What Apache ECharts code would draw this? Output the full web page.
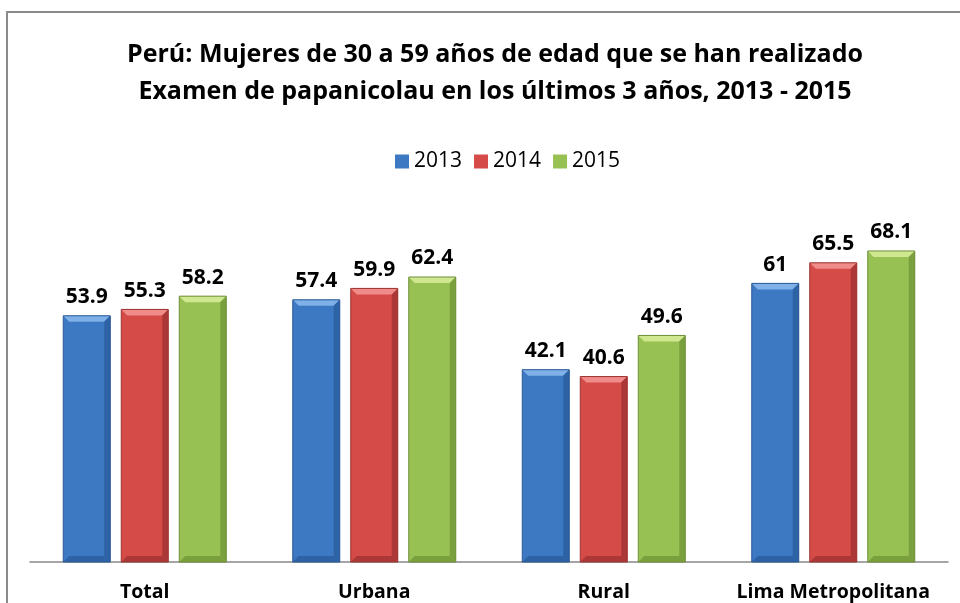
<!DOCTYPE html>
<html>
<head>
<meta charset="utf-8">
<script src="https://cdn.jsdelivr.net/npm/echarts@6/dist/echarts.min.js"></script>
<style>
  html, body { margin: 0; padding: 0; background: #fff; }
  #main { width: 960px; height: 603px; }
</style>
</head>
<body>
<div id="main"></div>
<script>
var categories = ['Total', 'Urbana', 'Rural', 'Lima Metropolitana'];
var years = ['2013', '2014', '2015'];
var values2013 = [53.9, 57.4, 42.1, 61];
var values2014 = [55.3, 59.9, 40.6, 65.5];
var values2015 = [58.2, 62.4, 49.6, 68.1];

var chart = echarts.init(document.getElementById('main'));

// colores: cara, borde, bisel claro, bisel oscuro
var palette = [
  { face: '#3d78c3', edge: '#2a5a96', light: '#7fb0e8', dark: '#2d62a4' },
  { face: '#d44b48', edge: '#9c3432', light: '#ef8c89', dark: '#ab3836' },
  { face: '#98c154', edge: '#6f8f3a', light: '#cfe890', dark: '#7aa03e' }
];

var barW = 47, step = 58;

function makeSeries(idx, data) {
  var c = palette[idx];
  return {
    name: years[idx],
    type: 'custom',
    data: data.map(function (v, i) { return [i, v]; }),
    itemStyle: { color: c.face },
    renderItem: function (params, api) {
      var p0 = api.coord([api.value(0), 0]);
      var p1 = api.coord([api.value(0), api.value(1)]);
      var cx = p0[0] + (idx - 1) * step;
      var x0 = cx - barW / 2, x1 = cx + barW / 2;
      var yb = p0[1], yt = p1[1];
      var b = 6;
      return {
        type: 'group',
        children: [
          { type: 'rect', shape: { x: x0, y: yt, width: barW, height: yb - yt },
            style: { fill: c.face } },
          { type: 'polygon', shape: { points: [[x0, yt], [x1, yt], [x1 - b, yt + b], [x0 + b, yt + b]] },
            style: { fill: c.light } },
          { type: 'polygon', shape: { points: [[x1, yt], [x1 - b, yt + b], [x1 - b, yb - b], [x1, yb]] },
            style: { fill: c.dark } },
          { type: 'polygon', shape: { points: [[x0, yb], [x0 + b, yb - b], [x1 - b, yb - b], [x1, yb]] },
            style: { fill: c.dark } },
          { type: 'rect', shape: { x: x0, y: yt, width: barW, height: yb - yt },
            style: { fill: 'none', stroke: c.edge, lineWidth: 1 } },
          { type: 'text', x: cx, y: yt - 8,
            style: { text: String(api.value(1)), fill: '#000', font: 'bold 21px "Open Sans"',
                     align: 'center', verticalAlign: 'bottom' } }
        ]
      };
    }
  };
}

var option = {
  animation: false,
  title: {
    text: 'Perú: Mujeres de 30 a 59 años de edad que se han realizado\nExamen de papanicolau en los últimos 3 años, 2013 - 2015',
    left: 490,
    textAlign: 'center',
    top: 31,
    textStyle: { fontFamily: 'Open Sans', fontWeight: 'bold', fontSize: 25, lineHeight: 37, color: '#000' }
  },
  legend: {
    data: years,
    top: 146,
    left: 390,
    icon: 'rect',
    itemWidth: 14,
    itemHeight: 14,
    itemGap: 12,
    textStyle: { fontFamily: 'Open Sans', fontSize: 21, color: '#000' }
  },
  grid: { left: 30, right: 12, top: 196.6, bottom: 41 },
  xAxis: {
    type: 'category',
    data: categories,
    axisLine: { lineStyle: { color: '#888', width: 1.5 } },
    axisTick: { show: false },
    axisLabel: { interval: 0, fontFamily: 'Open Sans', fontWeight: 'bold', fontSize: 19.5, color: '#000', margin: 20 }
  },
  yAxis: { type: 'value', min: 0, max: 80, show: false, splitLine: { show: false } },
  graphic: [
    { type: 'rect', shape: { x: 7, y: 12, width: 1000, height: 700 },
      style: { fill: 'none', stroke: '#8a8a8a', lineWidth: 2 } }
  ],
  series: [
    makeSeries(0, values2013),
    makeSeries(1, values2014),
    makeSeries(2, values2015)
  ]
};

chart.setOption(option);
</script>
</body>
</html>
